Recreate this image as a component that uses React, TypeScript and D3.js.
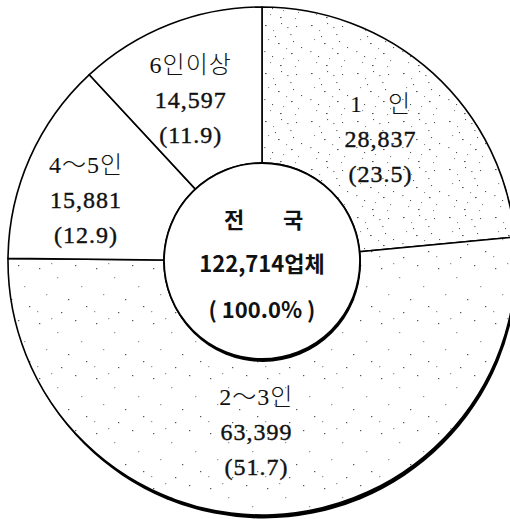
import React from 'react';
import * as d3 from 'd3';

// 가구원수별 업체 수 (전국)
const categories = ['1\u3000인', '2～3인', '4～5인', '6인이상'];
const counts = [28837, 63399, 15881, 14597];
const shares = [23.5, 51.7, 12.9, 11.9];
const totalTitle = ['전', '국'];
const totalShare = '100.0%';

const W = 510;
const H = 519;
const cx = 262;
const cy = 261;
const R = 254;
const r0 = 98;

const fills = ['url(#dotsDense)', 'url(#dotsSparse)', '#fff', '#fff'];
// small hand nudges so labels sit where the original put them
const nudge: Record<string, [number, number]> = {
  '1\u3000인': [0, 10],
  '2～3인': [-13, -3],
  '4～5인': [-15, 12],
  '6인이상': [-7, 5],
};

const denseDots = [
  [3, 4], [11, 9], [19, 2], [28, 13], [34, 5], [6, 18], [16, 22], [24, 27],
  [31, 20], [2, 30], [10, 35], [21, 37], [29, 32], [36, 39], [13, 15], [25, 6],
  [39, 26], [8, 41], [18, 44], [33, 45],
];
const sparseDots = [
  [5, 7], [23, 16], [41, 4], [12, 33], [34, 38], [47, 25], [27, 51], [3, 50],
  [52, 45], [17, 2],
];

const serif = "'Liberation Serif', 'DejaVu Serif', 'Noto Sans CJK KR', serif";
const sans = "'Noto Sans CJK KR', 'Noto Sans', sans-serif";

export default function App() {
  const data = categories.map((c, i) => ({ name: c, value: counts[i], share: shares[i] }));
  const pie = d3.pie<any>().sort(null).value(d => d.value).startAngle(0).endAngle(2 * Math.PI);
  const arcs = pie(data);
  const arc = d3.arc<any>().innerRadius(r0).outerRadius(R);
  const labelArc = d3.arc<any>().innerRadius(176).outerRadius(176);
  const total = d3.sum(counts);
  const fmt = d3.format(',');

  return (
    <svg width={W} height={H} style={{ position: 'absolute', left: 0, top: 0, background: '#fff' }}>
      <defs>
        <pattern id="dotsDense" width={46} height={48} patternUnits="userSpaceOnUse">
          <rect width={46} height={48} fill="#fff" />
          {denseDots.map(([x, y], i) => (
            <rect key={i} x={x} y={y} width={i % 3 === 0 ? 1.6 : 1.1} height={1.1} fill={i % 2 ? '#888' : '#555'} />
          ))}
        </pattern>
        <pattern id="dotsSparse" width={57} height={55} patternUnits="userSpaceOnUse">
          <rect width={57} height={55} fill="#fff" />
          {sparseDots.map(([x, y], i) => (
            <rect key={i} x={x} y={y} width={1.3} height={1.2} fill={i % 2 ? '#999' : '#555'} />
          ))}
        </pattern>
      </defs>

      {/* outer shadow, gives the heavy lower rim */}
      <circle cx={cx + 1.5} cy={cy + 3.5} r={R} fill="#000" />
      <g transform={`translate(${cx},${cy})`}>
        {arcs.map((a, i) => (
          <path key={i} d={arc(a) || ''} fill={fills[i]} stroke="#000" strokeWidth={1.6} />
        ))}
      </g>

      {/* inner circle with its own shadow */}
      <circle cx={cx + 0.8} cy={cy + 3} r={r0} fill="#000" />
      <circle cx={cx} cy={cy} r={r0} fill="#fff" stroke="#000" strokeWidth={1.8} />

      <g fontFamily={serif} fontSize={24} fill="#111" textAnchor="middle" letterSpacing={1}>
        {arcs.map((a, i) => {
          const [lx, ly] = labelArc.centroid(a);
          const [nx, ny] = nudge[a.data.name];
          const x = cx + lx + nx;
          const y = cy + ly + ny + 6;
          return (
            <g key={i}>
              <text x={x} y={y - 35} fontWeight={300}>{a.data.name}</text>
              <text x={x} y={y} stroke="#111" strokeWidth={0.4}>{fmt(a.data.value)}</text>
              <text x={x} y={y + 35} stroke="#111" strokeWidth={0.4}>({a.data.share.toFixed(1)})</text>
            </g>
          );
        })}
      </g>

      <g fontFamily={sans} fontWeight={700} fontSize={22} fill="#111" textAnchor="middle">
        <text x={cx - 28} y={cy - 33}>{totalTitle[0]}</text>
        <text x={cx + 31} y={cy - 33}>{totalTitle[1]}</text>
        <text x={cx} y={cy + 11}>{fmt(total)}업체</text>
        <text x={cx} y={cy + 57} style={{ whiteSpace: 'pre' }}>{`( ${totalShare} )`}</text>
      </g>
    </svg>
  );
}
